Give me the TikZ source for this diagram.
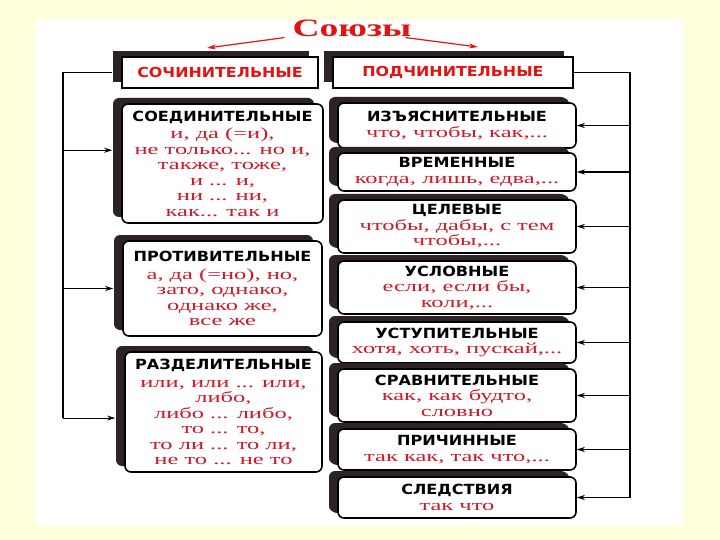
\documentclass[tikz,border=0pt]{standalone}
\usepackage{fontspec}
\setmainfont{Liberation Serif}
\newfontfamily\hfont[FakeStretch=1.15]{DejaVu Sans}
\newfontfamily\ifont[FakeStretch=1.6]{Liberation Serif}
\newfontfamily\tfont[FakeStretch=1.5]{Liberation Serif}
\usetikzlibrary{shadows,calc,arrows.meta}
\definecolor{bgc}{RGB}{255,255,221}
\definecolor{redc}{RGB}{205,25,40}
\definecolor{redh}{RGB}{225,20,20}
\definecolor{shc}{RGB}{45,35,38}
\newcommand{\hd}[1]{{\color{black}\hfont\bfseries\fontsize{14}{15}\selectfont #1}}
\tikzset{
  topbox/.style={draw=black, line width=1.8pt, fill=white, inner sep=0pt,
    text=redh, font=\hfont\bfseries\fontsize{13.8}{15}\selectfont,
    general shadow={fill=shc, shadow xshift=-9pt, shadow yshift=6pt}},
  lbox/.style={draw=black, line width=1.6pt, rounded corners=6pt, fill=white,
    inner sep=0pt, align=center, text=redc, font=\ifont\fontsize{15.3}{15.5}\selectfont,
    general shadow={fill=shc, shadow xshift=-9pt, shadow yshift=6pt}},
  rbox/.style={lbox, minimum width=238pt,
    general shadow={fill=shc, shadow xshift=-7pt, shadow yshift=5pt}},
  conn/.style={line width=1.1pt, draw=black},
  arr/.style={conn, -{Stealth[length=8pt,width=5pt]}},
  rarr/.style={line width=1.2pt, draw=redh, -{Stealth[length=9pt,width=5pt]}}
}
\begin{document}
\begin{tikzpicture}[x=1pt,y=-1pt]
\useasboundingbox (0,0) rectangle (720,540);
\fill[bgc] (0,0) rectangle (720,540);
\fill[white] (36,20) rectangle (683,525);

\node[inner sep=0pt, text=redh, font=\tfont\bfseries\fontsize{25}{26}\selectfont] (title) at (352,28) {Союзы};

\node[topbox, minimum width=196pt, minimum height=31pt] (sochin) at (220,72.5) {СОЧИНИТЕЛЬНЫЕ};
\node[topbox, minimum width=240pt, minimum height=31pt] (podchin) at (453,72.5) {ПОДЧИНИТЕЛЬНЫЕ};

\node[lbox, minimum width=201pt, minimum height=119pt] (soed) at (222.5,163.5)
 {\hd{СОЕДИНИТЕЛЬНЫЕ}\\[2pt] и, да (=и),\\ не только... но и,\\ также, тоже,\\ и ... и,\\ ни ... ни,\\ как... так и};
\node[lbox, minimum width=199pt, minimum height=95pt] (protiv) at (222.5,288.5)
 {\hd{ПРОТИВИТЕЛЬНЫЕ}\\[2pt] а, да (=но), но,\\ зато, однако,\\ однако же,\\ все же};
\node[lbox, minimum width=197pt, minimum height=120pt] (razdel) at (223.5,412)
 {\hd{РАЗДЕЛИТЕЛЬНЫЕ}\\[2pt] или, или ... или,\\ либо,\\ либо ... либо,\\ то ... то,\\ то ли ... то ли,\\ не то ... не то};

\node[rbox, minimum height=45pt] (izy) at (457,125.5) {\hd{ИЗЪЯСНИТЕЛЬНЫЕ}\\ что, чтобы, как,...};
\node[rbox, minimum height=38pt] (vrem) at (457,172) {\hd{ВРЕМЕННЫЕ}\\ когда, лишь, едва,...};
\node[rbox, minimum height=53pt] (tsel) at (457,226.5) {\hd{ЦЕЛЕВЫЕ}\\ чтобы, дабы, с тем\\ чтобы,...};
\node[rbox, minimum height=53pt] (uslov) at (457,287.5) {\hd{УСЛОВНЫЕ}\\ если, если бы,\\ коли,...};
\node[rbox, minimum height=41pt] (ustup) at (457,342.5) {\hd{УСТУПИТЕЛЬНЫЕ}\\ хотя, хоть, пускай,...};
\node[rbox, minimum height=53pt] (sravn) at (457,395.5) {\hd{СРАВНИТЕЛЬНЫЕ}\\ как, как будто,\\ словно};
\node[rbox, minimum height=41pt] (prich) at (457,449.5) {\hd{ПРИЧИННЫЕ}\\ так как, так что,...};
\node[rbox, minimum height=41pt] (sledst) at (457,497.5) {\hd{СЛЕДСТВИЯ}\\ так что};

% title arrows
\coordinate (tipL) at (207,48);
\coordinate (tipR) at (478,47);
\draw[rarr] ([xshift=-8pt,yshift=-1pt]title.south west) -- (tipL);
\draw[rarr] ([xshift=-6pt,yshift=-1pt]title.south east) -- (tipR);

% left bracket
\coordinate (soedA) at ($(soed.north west)!0.39!(soed.south west)$);
\coordinate (razA) at ($(razdel.north west)!0.55!(razdel.south west)$);
\coordinate (LX) at (63,0);
\draw[conn, shorten <=9pt] (sochin.west) -- (sochin.west -| LX) -- (LX |- razA);
\draw[arr, shorten >=9pt] (LX |- soedA) -- (soedA);
\draw[arr, shorten >=9pt] (LX |- protiv.west) -- (protiv.west);
\draw[arr, shorten >=9pt] (LX |- razA) -- (razA);

% right bracket
\coordinate (RX) at (630,0);
\draw[conn] (podchin.east) -- (podchin.east -| RX) -- (RX |- sledst.east);
\foreach \b in {izy,vrem,tsel,uslov,ustup,sravn,prich,sledst}
  \draw[arr] (RX |- \b.east) -- (\b.east);
\end{tikzpicture}
\end{document}
